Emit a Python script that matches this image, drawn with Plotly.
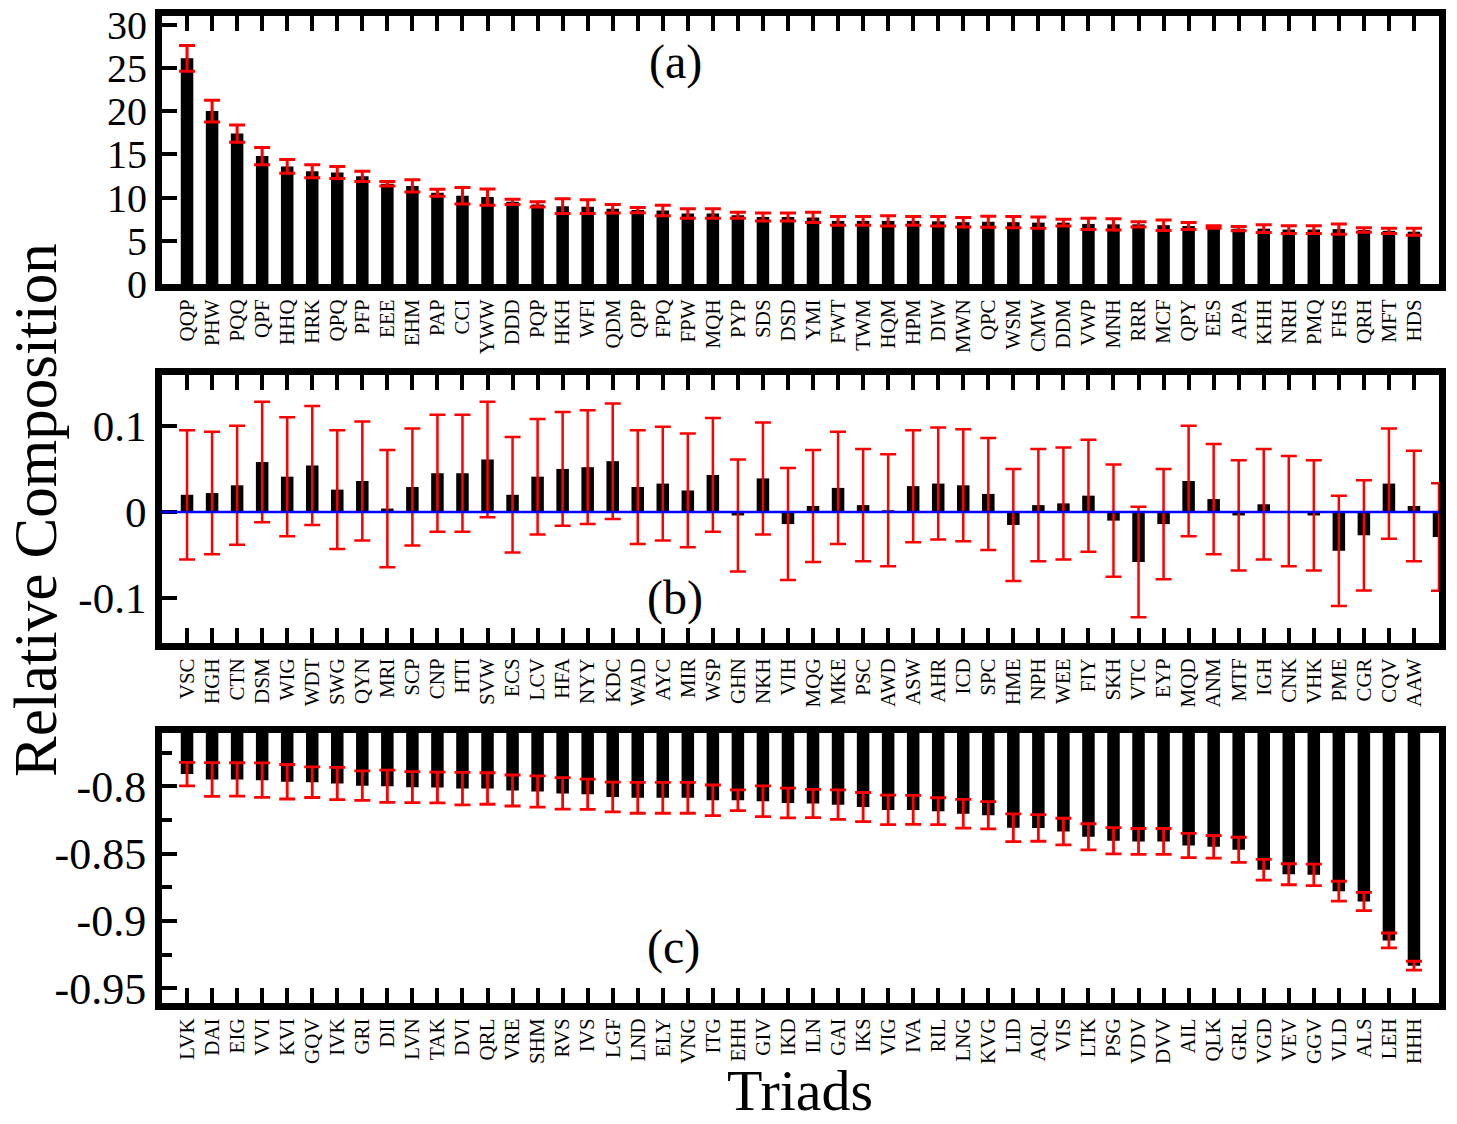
import plotly.graph_objects as go

FONT = "Liberation Serif, Times New Roman, serif"

# ---------------- Panel (a) ----------------
a_labels = ["QQP","PHW","PQQ","QPF","HHQ","HRK","QPQ","PFP","EEE","EHM",
            "PAP","CCI","YWW","DDD","PQP","HKH","WFI","QDM","QPP","FPQ",
            "FPW","MQH","PYP","SDS","DSD","YMI","FWT","TWM","HQM","HPM",
            "DIW","MWN","QPC","WSM","CMW","DDM","VWP","MNH","RRR","MCF",
            "QPY","EES","APA","KHH","NRH","PMQ","FHS","QRH","MFT","HDS"]
a_values = [26.1,20.0,17.4,14.8,13.6,13.05,12.9,12.45,11.6,11.35,
            10.55,10.2,10.05,9.5,9.2,9.0,8.95,8.7,8.55,8.5,
            8.15,8.15,7.95,7.75,7.75,7.7,7.3,7.3,7.3,7.3,
            7.25,7.15,7.2,7.15,7.1,7.1,6.95,6.9,6.9,6.8,
            6.7,6.6,6.4,6.4,6.3,6.3,6.35,6.25,6.15,6.05]
a_errors = [1.5,1.25,1.0,1.0,0.8,0.75,0.7,0.6,0.25,0.7,
            0.4,0.95,0.95,0.3,0.3,0.85,0.8,0.5,0.3,0.6,
            0.55,0.55,0.35,0.45,0.45,0.6,0.5,0.5,0.6,0.5,
            0.55,0.55,0.65,0.65,0.65,0.4,0.65,0.65,0.3,0.6,
            0.4,0.15,0.25,0.45,0.45,0.45,0.6,0.27,0.3,0.4]
a_ticks = [0, 5, 10, 15, 20, 25, 30]

# ---------------- Panel (b) ----------------
b_labels = ["VSC","HGH","CTN","DSM","WIG","WDT","SWG","QYN","MRI","SCP",
            "CNP","HTI","SVW","ECS","LCV","HFA","NYY","KDC","WAD","AYC",
            "MIR","WSP","GHN","NKH","VIH","MQG","MKE","PSC","AWD","ASW",
            "AHR","ICD","SPC","HME","NPH","WEE","FIY","SKH","VTC","EYP",
            "MQD","ANM","MTF","IGH","CNK","VHK","PME","CGR","CQV","AAW",
            " "]
b_values = [0.020,0.022,0.031,0.058,0.041,0.054,0.026,0.036,0.004,0.029,
            0.045,0.045,0.061,0.020,0.041,0.050,0.052,0.059,0.029,0.033,
            0.025,0.043,-0.004,0.039,-0.014,0.007,0.028,0.008,0.002,0.030,
            0.033,0.031,0.021,-0.015,0.008,0.010,0.019,-0.010,-0.058,-0.014,
            0.036,0.015,-0.004,0.009,0.001,-0.004,-0.045,-0.027,0.033,0.007,
            -0.029]
b_errors = [0.075,0.071,0.069,0.070,0.069,0.069,0.069,0.069,0.068,0.068,
            0.068,0.068,0.067,0.067,0.067,0.066,0.066,0.067,0.066,0.066,
            0.066,0.066,0.065,0.065,0.065,0.065,0.065,0.065,0.065,0.065,
            0.065,0.065,0.065,0.065,0.065,0.065,0.065,0.065,0.064,0.064,
            0.064,0.064,0.064,0.064,0.064,0.064,0.064,0.064,0.064,0.064,
            0.0625]
b_ticks = [-0.1, 0, 0.1]
b_ticktext = ["-0.1", "0", "0.1"]

# ---------------- Panel (c) ----------------
c_labels = ["LVK","DAI","EIG","VVI","KVI","GQV","IVK","GRI","DII","LVN",
            "TAK","DVI","QRL","VRE","SHM","RVS","IVS","LGF","LND","ELY",
            "VNG","ITG","EHH","GIV","IKD","ILN","GAI","IKS","VIG","IVA",
            "RIL","LNG","KVG","LID","AQL","VIS","LTK","PSG","VDV","DVV",
            "AIL","QLK","GRL","VGD","VEV","GGV","VLD","ALS","LEH","HHH"]
c_values = [-0.791,-0.795,-0.795,-0.7955,-0.7967,-0.797,-0.798,-0.7996,-0.800,-0.8007,
            -0.801,-0.8018,-0.8017,-0.8032,-0.804,-0.8054,-0.806,-0.808,-0.8086,-0.8086,
            -0.8086,-0.8105,-0.8105,-0.8112,-0.8125,-0.8128,-0.8137,-0.8155,-0.8176,-0.8176,
            -0.8186,-0.8205,-0.8216,-0.8308,-0.831,-0.8337,-0.8376,-0.8405,-0.841,-0.841,
            -0.844,-0.845,-0.8472,-0.862,-0.8654,-0.8658,-0.878,-0.8856,-0.9145,-0.9333]
c_errors = [0.0087,0.0125,0.0124,0.0128,0.0128,0.0114,0.012,0.011,0.012,0.0115,
            0.0114,0.012,0.0117,0.0115,0.0116,0.0117,0.0112,0.011,0.0115,0.0115,
            0.0115,0.0114,0.0077,0.0114,0.011,0.0105,0.011,0.0108,0.011,0.0108,
            0.010,0.0107,0.0101,0.0103,0.0099,0.0099,0.0097,0.0098,0.0096,0.0096,
            0.009,0.0084,0.0093,0.0077,0.0078,0.008,0.0074,0.0068,0.0055,0.0033]
c_ticks = [-0.95, -0.9, -0.85, -0.8]
c_ticktext = ["-0.95", "-0.9", "-0.85", "-0.8"]
c_minor = [-0.925, -0.875, -0.825, -0.775]

W, H = 1457, 1124
XDOM = [162 / W, 1439 / W]


def ydom(top_px, bot_px):
    return [1 - bot_px / H, 1 - top_px / H]


fig = go.Figure()


def add_bars(labels, values, errors, xa, ya, thick):
    fig.add_trace(go.Bar(
        x=labels, y=values, width=0.5,
        marker=dict(color="black", line=dict(width=0)),
        error_y=dict(type="data", array=errors, visible=True,
                     color="red", thickness=thick, width=8),
        xaxis=xa, yaxis=ya, showlegend=False,
    ))


add_bars(a_labels, a_values, a_errors, "x", "y", 3)
add_bars(b_labels, b_values, b_errors, "x2", "y2", 2.5)
add_bars(c_labels, c_values, c_errors, "x3", "y3", 2.8)


def xaxis(anchor, cats):
    return dict(domain=XDOM, anchor=anchor, type="category",
                categoryorder="array", categoryarray=cats,
                tickmode="linear", tick0=0, dtick=1,
                range=[-1, 50], showline=True, linewidth=7, linecolor="black",
                mirror="ticks", ticks="inside", ticklen=15, tickwidth=3.5,
                tickcolor="black", tickangle=-90, showgrid=False, zeroline=False,
                tickfont=dict(family=FONT, size=21, color="black"),
                automargin=False, fixedrange=True)


def yaxis(anchor, dom, rng, tickvals, ticktext, size):
    return dict(domain=dom, anchor=anchor, range=rng, tickmode="array",
                tickvals=tickvals, ticktext=ticktext, showline=True,
                linewidth=7, linecolor="black", mirror=True, ticks="inside",
                ticklen=15, tickwidth=3.5, tickcolor="black", showgrid=False,
                zeroline=False, tickfont=dict(family=FONT, size=size, color="black"),
                automargin=False, fixedrange=True)


fig.update_layout(
    template="none",
    width=W, height=H, autosize=False,
    margin=dict(l=0, r=0, t=0, b=0, pad=0),
    paper_bgcolor="white", plot_bgcolor="white",
    showlegend=False,
    xaxis=xaxis("y", a_labels),
    xaxis2=xaxis("y2", b_labels),
    xaxis3=xaxis("y3", c_labels),
    yaxis=yaxis("x", ydom(16, 284), [0, 31], a_ticks, [str(t) for t in a_ticks], 40),
    yaxis2=yaxis("x2", ydom(375, 643), [-0.152, 0.159], b_ticks, b_ticktext, 43),
    yaxis3=yaxis("x3", ydom(733, 1003), [-0.961, -0.7605], c_ticks, c_ticktext, 44),
)
fig.layout.yaxis3.minor = dict(tickvals=c_minor, ticks="inside", ticklen=10,
                               tickwidth=3.5, tickcolor="black", showgrid=False)

# blue zero line in panel (b)
fig.add_shape(type="line", xref="x2 domain", yref="y2", x0=0, x1=1, y0=0, y1=0,
              line=dict(color="blue", width=2.5), layer="above")

# panel letters and axis titles
for txt, xp, yp in [("(a)", 675, 62), ("(b)", 675, 598), ("(c)", 673, 947)]:
    fig.add_annotation(text=txt, x=xp / W, y=1 - yp / H, xref="paper", yref="paper",
                       showarrow=False, xanchor="center", yanchor="middle",
                       font=dict(family=FONT, size=48, color="black"))

fig.add_annotation(text="Relative Composition", x=35 / W, y=1 - 510 / H,
                   xref="paper", yref="paper", showarrow=False, textangle=-90,
                   xanchor="center", yanchor="middle",
                   font=dict(family=FONT, size=61, color="black"))
fig.add_annotation(text="Triads", x=800 / W, y=0.0,
                   xref="paper", yref="paper", showarrow=False,
                   xanchor="center", yanchor="bottom", borderpad=0,
                   font=dict(family=FONT, size=58, color="black"))

fig.write_html("out.html")
